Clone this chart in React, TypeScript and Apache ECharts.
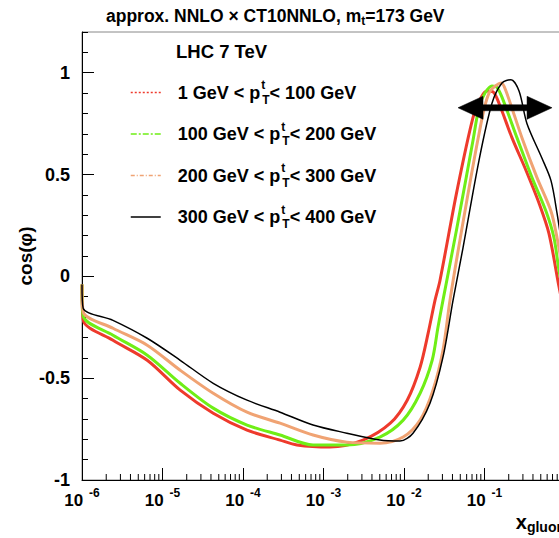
import React, { useEffect, useRef } from "react";
import * as echarts from "echarts";

// pT bins of the four curves
const ptLow = [1, 100, 200, 300];
const ptHigh = [100, 200, 300, 400];
const seriesNames = [
  "1 GeV < pT < 100 GeV",
  "100 GeV < pT < 200 GeV",
  "200 GeV < pT < 300 GeV",
  "300 GeV < pT < 400 GeV",
];
const seriesColors = ["#ee3a2c", "#6fee16", "#f0a373", "#000000"];

// [log10(x_gluon), cos(phi)]
const red: number[][] = [
  [-6.0, -0.04], [-5.985, -0.215], [-5.615, -0.314], [-5.19, -0.412], [-4.78, -0.559],
  [-4.37, -0.672], [-3.95, -0.755], [-3.54, -0.804], [-3.33, -0.828], [-2.92, -0.838],
  [-2.51, -0.804], [-2.17, -0.721], [-1.96, -0.608], [-1.8, -0.446], [-1.7, -0.279],
  [-1.615, -0.118], [-1.553, -0.02], [-1.342, 0.42], [-1.143, 0.78], [-1.04, 0.88],
  [-0.97, 0.91], [-0.89, 0.905], [-0.82, 0.85], [-0.658, 0.68], [-0.484, 0.52],
  [-0.323, 0.36], [-0.199, 0.21], [-0.075, -0.05], [0.0, -0.2],
];
const green: number[][] = [
  [-6.0, -0.04], [-5.985, -0.195], [-5.615, -0.289], [-5.19, -0.387], [-4.78, -0.525],
  [-4.37, -0.647], [-3.95, -0.73], [-3.54, -0.779], [-3.13, -0.828], [-2.71, -0.828],
  [-2.3, -0.789], [-2.01, -0.706], [-1.8, -0.574], [-1.65, -0.412], [-1.578, -0.25],
  [-1.516, -0.118], [-1.342, 0.24], [-1.143, 0.667], [-1.068, 0.83], [-0.994, 0.9],
  [-0.907, 0.935], [-0.85, 0.93], [-0.783, 0.88], [-0.596, 0.68], [-0.41, 0.485],
  [-0.236, 0.32], [-0.137, 0.19], [-0.075, 0.03], [0.0, -0.12],
];
const orange: number[][] = [
  [-6.0, -0.04], [-5.985, -0.175], [-5.615, -0.255], [-5.19, -0.338], [-4.78, -0.461],
  [-4.37, -0.574], [-3.95, -0.667], [-3.54, -0.721], [-3.13, -0.779], [-2.71, -0.814],
  [-2.3, -0.819], [-2.01, -0.789], [-1.8, -0.706], [-1.64, -0.559], [-1.516, -0.363],
  [-1.429, -0.118], [-1.304, 0.18], [-1.068, 0.7], [-0.944, 0.9], [-0.79, 0.95],
  [-0.733, 0.91], [-0.534, 0.68], [-0.348, 0.485], [-0.174, 0.32], [-0.099, 0.19],
  [0.0, -0.03],
];
const black: number[][] = [
  [-6.0, -0.04], [-5.985, -0.157], [-5.615, -0.216], [-5.19, -0.304], [-4.78, -0.412],
  [-4.37, -0.525], [-3.95, -0.608], [-3.54, -0.667], [-3.13, -0.73], [-2.71, -0.77],
  [-2.3, -0.804], [-2.05, -0.809], [-1.888, -0.77], [-1.677, -0.623], [-1.516, -0.397],
  [-1.391, -0.118], [-1.267, 0.14], [-1.068, 0.57], [-0.907, 0.85], [-0.783, 0.95],
  [-0.671, 0.966], [-0.571, 0.91], [-0.472, 0.75], [-0.286, 0.58], [-0.174, 0.47],
  [-0.099, 0.31], [0.0, 0.05],
];
const curves = [red, green, orange, black];

// axis ticks / labels
const xTickExponents = [-6, -5, -4, -3, -2, -1, 0];
const xTickLabels = ["-6", "-5", "-4", "-3", "-2", "-1", "0"];
const yTickValues = [-1, -0.5, 0, 0.5, 1];
const yTickLabels = ["-1", "-0.5", "0", "0.5", "1"];
const minorMultipliers = [2, 3, 4, 5, 6, 7, 8, 9];

// double arrow annotation: [log10 x left, log10 x right, cos]
const arrowSpan = [-1.329, -0.161, 0.828];

const FONT = "Liberation Sans, Arial, Helvetica, sans-serif";

export default function App() {
  const ref = useRef<HTMLDivElement>(null);
  useEffect(() => {
    document.body.style.margin = "0";
    const chart = echarts.init(ref.current!, null, { renderer: "svg" });

    const minorX: number[][] = [];
    for (let i = 0; i < xTickExponents.length - 1; i++) {
      for (const m of minorMultipliers) minorX.push([m * Math.pow(10, xTickExponents[i]), -1]);
    }

    const legendStyles: any[] = [
      { type: [2, 2], width: 1.5 },
      { type: [6, 2, 2, 2], width: 1.5 },
      { type: [4, 2, 1, 2], width: 1.5 },
      { type: "solid", width: 1.5 },
    ];

    const lineSeries = curves.map((c, i) => ({
      type: "line",
      name: seriesNames[i],
      data: c.map(([lx, v]) => [Math.pow(10, lx), v]),
      smooth: 0.3,
      symbol: "none",
      lineStyle: { color: seriesColors[i], width: i === 3 ? 1.5 : 3 },
      itemStyle: { color: seriesColors[i] },
      z: 3 + i,
    }));

    const option: any = {
      animation: false,
      backgroundColor: "#ffffff",
      textStyle: { fontFamily: FONT },
      title: {
        text: "approx. NNLO × CT10NNLO, m{s|t}=173 GeV",
        left: 106,
        top: 5,
        padding: 0,
        textStyle: {
          fontFamily: FONT,
          fontSize: 17.5,
          fontWeight: "bold",
          color: "#000",
          rich: {
            s: { fontFamily: FONT, fontSize: 12, fontWeight: "bold", color: "#000", padding: [10, 0, 0, 0] },
          },
        },
      },
      grid: {
        left: 82,
        right: -6,
        top: 32,
        bottom: 58,
        show: true,
        borderColor: "#888888",
        borderWidth: 1,
        containLabel: false,
        outerBoundsMode: "none",
      },
      legend: {
        orient: "vertical",
        left: 130,
        top: 79,
        padding: 0,
        itemWidth: 30,
        itemHeight: 14,
        itemGap: 15,
        selectedMode: false,
        itemStyle: { opacity: 0 },
        data: seriesNames.map((n, i) => ({ name: n, lineStyle: legendStyles[i], itemStyle: { opacity: 0 } })),
        formatter: (name: string) => {
          const i = seriesNames.indexOf(name);
          return `{b|${ptLow[i]} GeV < p}{sup|t}{sub|T}{c|< ${ptHigh[i]} GeV}`;
        },
        textStyle: {
          fontFamily: FONT,
          fontSize: 18,
          fontWeight: "bold",
          color: "#000",
          rich: {
            b: { fontFamily: FONT, fontSize: 18, fontWeight: "bold", color: "#000", padding: [0, 0, 0, 12] },
            sup: { fontFamily: FONT, fontSize: 12, fontWeight: "bold", color: "#000", width: 1, padding: [0, 0, 15, 1] },
            sub: { fontFamily: FONT, fontSize: 12, fontWeight: "bold", color: "#000", padding: [14, 0, 0, 0] },
            c: { fontFamily: FONT, fontSize: 18, fontWeight: "bold", color: "#000" },
          },
        },
      },
      graphic: [
        {
          type: "text",
          left: 176,
          top: 42,
          style: { text: "LHC 7 TeV", fontFamily: FONT, fontSize: 18.5, fontWeight: "bold", fill: "#000" },
        },
      ],
      xAxis: {
        type: "log",
        logBase: 10,
        min: Math.pow(10, xTickExponents[0]),
        max: Math.pow(10, xTickExponents[xTickExponents.length - 1]),
        interval: 1,
        axisLine: { show: true, onZero: false, lineStyle: { color: "#000", width: 1 } },
        axisTick: { show: true, inside: true, length: 12, lineStyle: { color: "#000", width: 1 } },
        minorTick: { show: false },
        splitLine: { show: false },
        axisLabel: {
          margin: 7,
          showMaxLabel: false,
          formatter: (v: number) => {
            const e = Math.round(Math.log10(v));
            const idx = xTickExponents.indexOf(e);
            return `{b|10}{e|${xTickLabels[idx]}}`;
          },
          rich: {
            b: { fontFamily: FONT, fontSize: 17, fontWeight: "bold", color: "#000" },
            e: { fontFamily: FONT, fontSize: 12, fontWeight: "bold", color: "#000", padding: [0, 0, 14, 6] },
          },
        },
        name: "{x|x}{s|gluon}",
        nameLocation: "end",
        nameGap: 0,
        nameMoveOverlap: false,
        nameTextStyle: {
          align: "right",
          verticalAlign: "top",
          padding: [30, 0, 0, 0],
          rich: {
            x: { fontFamily: FONT, fontSize: 20, fontWeight: "bold", color: "#000" },
            s: { fontFamily: FONT, fontSize: 14, fontWeight: "bold", color: "#000", padding: [10, 0, 0, 0] },
          },
        },
      },
      yAxis: [
        {
          type: "value",
          position: "left",
          min: -1,
          max: 1.2,
          interval: 0.1,
          axisLine: { show: true, onZero: false, lineStyle: { color: "#000", width: 1 } },
          axisTick: { show: true, inside: true, length: 6, lineStyle: { color: "#000", width: 1 } },
          axisLabel: { show: false },
          splitLine: { show: false },
          name: "cos(φ)",
          nameLocation: "middle",
          nameRotate: 90,
          nameGap: 47,
          nameMoveOverlap: false,
          nameTextStyle: { fontFamily: FONT, fontSize: 19, fontWeight: "bold", color: "#000" },
        },
        {
          type: "value",
          position: "left",
          min: -1,
          max: 1.2,
          interval: 0.5,
          axisLine: { show: false, onZero: false },
          axisTick: { show: true, inside: true, length: 12, lineStyle: { color: "#000", width: 1 } },
          splitLine: { show: false },
          axisLabel: {
            margin: 12,
            showMaxLabel: false,
            fontFamily: FONT,
            fontSize: 18,
            fontWeight: "bold",
            color: "#000",
            formatter: (v: number) => {
              const idx = yTickValues.findIndex((t) => Math.abs(t - v) < 1e-6);
              return idx >= 0 ? yTickLabels[idx] : "";
            },
          },
        },
      ],
      series: [
        ...lineSeries,
        {
          type: "custom",
          name: "minorTicks",
          silent: true,
          data: minorX,
          z: 10,
          renderItem: (params: any, api: any) => {
            const p = api.coord([api.value(0), api.value(1)]);
            return {
              type: "line",
              shape: { x1: p[0], y1: p[1], x2: p[0], y2: p[1] - 6 },
              style: { stroke: "#000", lineWidth: 1 },
            };
          },
        },
        {
          type: "custom",
          name: "arrow",
          silent: true,
          z: 20,
          data: [[Math.pow(10, arrowSpan[0]), Math.pow(10, arrowSpan[1]), arrowSpan[2]]],
          encode: { x: [0, 1], y: 2 },
          renderItem: (params: any, api: any) => {
            const a = api.coord([api.value(0), api.value(2)]);
            const b = api.coord([api.value(1), api.value(2)]);
            const H = 25, A = 11.5, t = 3;
            const y = a[1];
            return {
              type: "polygon",
              shape: {
                points: [
                  [a[0], y], [a[0] + H, y - A], [a[0] + H, y - t], [b[0] - H, y - t],
                  [b[0] - H, y - A], [b[0], y], [b[0] - H, y + A], [b[0] - H, y + t],
                  [a[0] + H, y + t], [a[0] + H, y + A],
                ],
              },
              style: { fill: "#000", stroke: "#000", lineWidth: 0.5 },
            };
          },
        },
      ],
    };

    chart.setOption(option);
    return () => chart.dispose();
  }, []);
  return <div ref={ref} style={{ width: 559, height: 538 }} />;
}
